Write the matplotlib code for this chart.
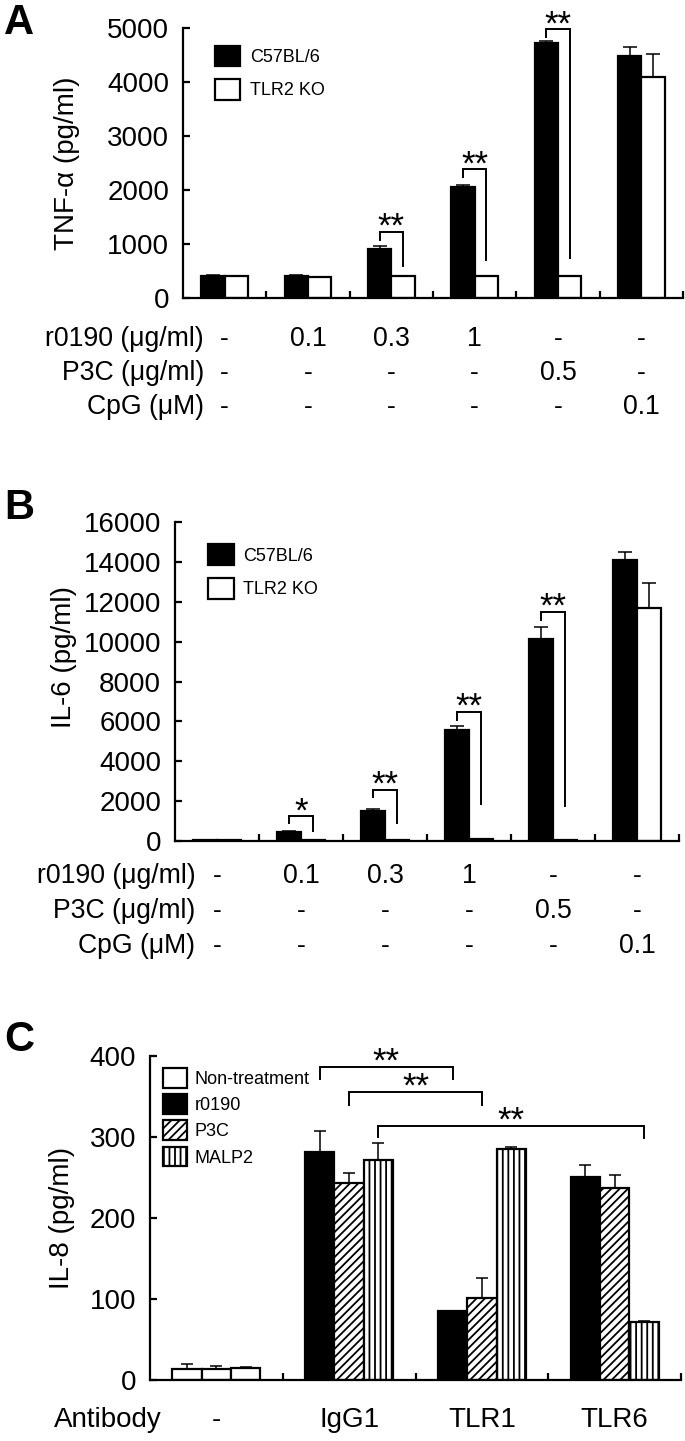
import matplotlib
matplotlib.use('Agg')
import matplotlib.pyplot as plt
import numpy as np

plt.rcParams['font.family'] = ['Liberation Sans', 'DejaVu Sans']
plt.rcParams['hatch.linewidth'] = 1.3
plt.rcParams['axes.linewidth'] = 1.6

# ---------------- data ----------------
strains = ['C57BL/6', 'TLR2 KO']
row_labels = ['r0190 (μg/ml)', 'P3C (μg/ml)', 'CpG (μM)']
r0190_row = ['-', '0.1', '0.3', '1', '-', '-']
p3c_row = ['-', '-', '-', '-', '0.5', '-']
cpg_row = ['-', '-', '-', '-', '-', '0.1']

# Panel A: TNF-alpha
tnf_wt = [410, 415, 905, 2060, 4715, 4480]
tnf_wt_err = [15, 10, 60, 35, 45, 170]
tnf_ko = [405, 385, 408, 410, 410, 4090]
tnf_ko_err = [0, 0, 0, 0, 0, 420]
tnf_yticks = [0, 1000, 2000, 3000, 4000, 5000]
tnf_sig_group = [2, 3, 4]
tnf_sig_top = [1219, 2383, 4975]
tnf_sig_left = [1078, 2248, 4834]
tnf_sig_right = [585, 708, 739]
tnf_sig_label = ['**', '**', '**']

# Panel B: IL-6
il6_wt = [30, 460, 1500, 5580, 10150, 14080]
il6_wt_err = [0, 30, 90, 200, 600, 420]
il6_ko = [50, 60, 70, 100, 50, 11700]
il6_ko_err = [0, 0, 0, 0, 0, 1230]
il6_yticks = [0, 2000, 4000, 6000, 8000, 10000, 12000, 14000, 16000]
il6_sig_group = [1, 2, 3, 4]
il6_sig_top = [1230, 2575, 6472, 11488]
il6_sig_left = [920, 2207, 6087, 11104]
il6_sig_right = [500, 903, 1873, 1739]
il6_sig_label = ['*', '**', '**', '**']

# Panel C: IL-8
antibodies = ['-', 'IgG1', 'TLR1', 'TLR6']
treatments = ['Non-treatment', 'r0190', 'P3C', 'MALP2']
il8_none = [14, 14, 15]
il8_none_err = [5.5, 3.5, 0.8]
il8_r0190 = [281, 85, 251]
il8_r0190_err = [26, 0, 15]
il8_p3c = [243, 101, 237]
il8_p3c_err = [13, 25, 16]
il8_malp2 = [271, 285, 71]
il8_malp2_err = [21, 3, 1.5]
il8_yticks = [0, 100, 200, 300, 400]
il8_sig_from = [1, 1, 1]
il8_sig_to = [2, 2, 3]
il8_sig_bar = [0, 1, 2]
il8_sig_top = [387, 356, 314]
il8_sig_left = [372, 340, 300]
il8_sig_right = [372, 340, 299]

# ---------------- figure ----------------
W, H = 685, 1441
fig = plt.figure(figsize=(W / 100, H / 100), dpi=100)


def px_axes(left, right, top, bottom):
    return fig.add_axes([left / W, 1 - bottom / H, (right - left) / W, (bottom - top) / H])


TICK_FS = 20
LABEL_FS = 20
ROW_FS = 19.2
ANT_FS = 20
LEG_FS = 13
STAR_FS = 25
LW = 1.6


def style_axes(ax, ngroups, yticks):
    for s in ['top', 'right']:
        ax.spines[s].set_visible(False)
    ax.set_xlim(-0.5, ngroups - 0.5)
    ax.set_ylim(0, yticks[-1])
    ax.set_xticks(np.arange(0.5, ngroups, 1.0))
    ax.set_xticklabels([])
    ax.set_yticks(yticks)
    ax.set_yticklabels([str(t) for t in yticks])
    ax.tick_params(axis='x', direction='in', length=5, width=LW, labelbottom=False)
    ax.tick_params(axis='y', direction='in', length=5, width=LW, labelsize=TICK_FS, pad=10)


def draw_bracket(ax, x0, x1, top, yl, yr, label):
    ax.plot([x0, x0, x1, x1], [yl, top, top, yr], color='black', lw=1.4,
            clip_on=False, solid_joinstyle='miter')
    ax.annotate(label, xy=((x0 + x1) / 2, top), xytext=(0, -3.5), textcoords='offset points',
                ha='center', va='baseline', fontsize=STAR_FS, annotation_clip=False)


def panel_ab(ax, wt, wt_err, ko, ko_err, yticks, ylabel, ylabel_xy, sig_g, sig_t, sig_l, sig_r,
             sig_lab, leg_anchor, rows_y, rowlab_x):
    n = len(wt)
    x = np.arange(n)
    w = 0.28
    ekw = dict(ecolor='black', elinewidth=1.1, capsize=5, capthick=1.1)
    ax.bar(x - w / 2, wt, w, color='black', edgecolor='black', linewidth=LW,
           yerr=[np.zeros(n), wt_err], error_kw=ekw, label=strains[0], zorder=2)
    ax.bar(x + w / 2, ko, w, color='white', edgecolor='black', linewidth=LW,
           yerr=[np.zeros(n), ko_err], error_kw=ekw, label=strains[1], zorder=2)
    style_axes(ax, n, yticks)
    ax.set_ylabel(ylabel, fontsize=LABEL_FS)
    ax.yaxis.set_label_coords(*ylabel_xy)
    for g, t, l, r, lab in zip(sig_g, sig_t, sig_l, sig_r, sig_lab):
        draw_bracket(ax, g - w / 2, g + w / 2, t, l, r, lab)
    ax.legend(loc='upper left', bbox_to_anchor=leg_anchor, frameon=False, fontsize=LEG_FS,
              handlelength=1.4, handleheight=1.4, labelspacing=0.7, handletextpad=0.55,
              borderpad=0, borderaxespad=0)
    tr = ax.get_xaxis_transform()
    for ry, lab, vals in zip(rows_y, row_labels, [r0190_row, p3c_row, cpg_row]):
        ax.text(rowlab_x, ry, lab, transform=tr, ha='right', va='center', fontsize=ROW_FS)
        for i, v in enumerate(vals):
            ax.text(i, ry, v, transform=tr, ha='center', va='center', fontsize=ROW_FS)


# Panel A
axA = px_axes(183, 683, 28, 298)
panel_ab(axA, tnf_wt, tnf_wt_err, tnf_ko, tnf_ko_err, tnf_yticks, 'TNF-α (pg/ml)', (-0.205, 0.5),
         tnf_sig_group, tnf_sig_top, tnf_sig_left, tnf_sig_right, tnf_sig_label,
         (0.064, 0.935), [-0.152, -0.278, -0.404], -0.25)

# Panel B
axB = px_axes(175, 679, 522, 841)
panel_ab(axB, il6_wt, il6_wt_err, il6_ko, il6_ko_err, il6_yticks, 'IL-6 (pg/ml)', (-0.195, 0.577),
         il6_sig_group, il6_sig_top, il6_sig_left, il6_sig_right, il6_sig_label,
         (0.066, 0.93), [-0.110, -0.218, -0.330], -0.26)

# Panel C
axC = px_axes(150, 681, 1056, 1380)
wc = 0.221
offs = [-wc, 0, wc]
ekw = dict(ecolor='black', elinewidth=1.1, capsize=4.5, capthick=1.1)
xg = np.arange(1, 4)
axC.bar(np.array(offs), il8_none, wc, color='white', edgecolor='black', linewidth=LW,
        yerr=[np.zeros(3), il8_none_err], error_kw=ekw, label=treatments[0], zorder=2)
axC.bar(xg + offs[0], il8_r0190, wc, color='black', edgecolor='black', linewidth=LW,
        yerr=[np.zeros(3), il8_r0190_err], error_kw=ekw, label=treatments[1], zorder=2)
axC.bar(xg + offs[1], il8_p3c, wc, color='white', edgecolor='black', linewidth=LW, hatch='////',
        yerr=[np.zeros(3), il8_p3c_err], error_kw=ekw, label=treatments[2], zorder=2)
axC.bar(xg + offs[2], il8_malp2, wc, color='white', edgecolor='black', linewidth=LW, hatch='|||',
        yerr=[np.zeros(3), il8_malp2_err], error_kw=ekw, label=treatments[3], zorder=2)
style_axes(axC, 4, il8_yticks)
axC.set_ylabel('IL-8 (pg/ml)', fontsize=LABEL_FS)
axC.yaxis.set_label_coords(-0.141, 0.5)
for f, t, b, top, l, r in zip(il8_sig_from, il8_sig_to, il8_sig_bar, il8_sig_top,
                              il8_sig_left, il8_sig_right):
    draw_bracket(axC, f + offs[b], t + offs[b], top, l, r, '**')
axC.legend(loc='upper left', bbox_to_anchor=(0.025, 0.963), frameon=False, fontsize=LEG_FS,
           handlelength=1.3, handleheight=1.3, labelspacing=0.35, handletextpad=0.45,
           borderpad=0, borderaxespad=0)
trC = axC.get_xaxis_transform()
axC.text(-0.41, -0.123, 'Antibody', transform=trC, ha='right', va='center', fontsize=ANT_FS)
for i, a in enumerate(antibodies):
    axC.text(i, -0.123, a, transform=trC, ha='center', va='center', fontsize=ANT_FS)

# panel letters
for lab, ytop in zip(['A', 'B', 'C'], [3, 488, 1020]):
    fig.text(4 / W, 1 - ytop / H, lab, fontsize=30, fontweight='bold', va='top', ha='left')

fig.savefig('out.png', dpi=100)
